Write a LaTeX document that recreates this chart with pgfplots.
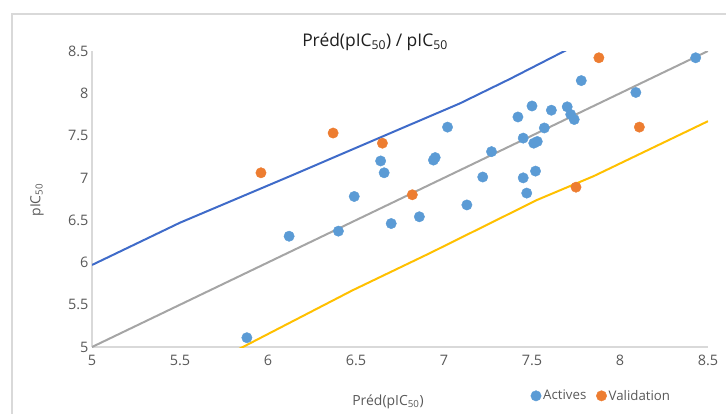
\documentclass[border=0pt]{standalone}
\usepackage{pgfplots}
\pgfplotsset{compat=1.18}
\usepackage{fontspec}
\setmainfont{Open Sans}
\definecolor{actblue}{HTML}{5B9BD5}
\definecolor{valorange}{HTML}{ED7D31}
\definecolor{upblue}{HTML}{3F6BC9}
\definecolor{idgray}{HTML}{A5A5A5}
\definecolor{lowyellow}{HTML}{FFC000}
\definecolor{axgray}{HTML}{D9D9D9}
\definecolor{txtgray}{HTML}{595959}
\definecolor{titlegray}{HTML}{1F1F1F}
\begin{document}
\begin{tikzpicture}
\useasboundingbox (0,0) rectangle (726bp,-414bp);
\draw[axgray, line width=1.5bp] (12bp,-414bp) -- (12bp,-14bp) -- (726bp,-14bp);
\begin{axis}[
  at={(92bp,-347bp)}, anchor=south west,
  scale only axis, width=616bp, height=296bp,
  xmin=5, xmax=8.5, ymin=5, ymax=8.5,
  axis x line=bottom, axis y line=left,
  axis line style={axgray, line width=1.2bp, -},
  xtick={5,5.5,6,6.5,7,7.5,8,8.5}, ytick={5,5.5,6,6.5,7,7.5,8,8.5},
  major tick length=0pt,
  ticklabel style={font=\fontsize{14.5}{17}\selectfont, text=txtgray},
  /pgf/number format/assume math mode=true,
  xticklabel style={yshift=-5bp},
  yticklabel style={xshift=0bp},
  legend style={at={(0.827,-0.165)}, anchor=center, draw=none, fill=none,
    legend columns=2, font=\fontsize{13.3}{15}\selectfont, text=txtgray,
    /tikz/every even column/.append style={column sep=8bp},
    inner sep=0pt},
  legend cell align=left,
]
\addplot[upblue, line width=2bp, forget plot] coordinates {
(5.00,5.97) (5.5,6.47) (6.125,7.02) (6.73,7.56) (7.09,7.88) (7.375,8.17) (7.76,8.58)};
\addplot[idgray, line width=2bp, forget plot] coordinates {(5,5) (8.5,8.5)};
\addplot[lowyellow, line width=2bp, forget plot] coordinates {
(5.82,4.96) (6.48,5.67) (6.92,6.11) (7.53,6.74) (7.85,7.02) (8.5,7.67)};
\addplot[only marks, mark=*, mark size=5.2bp, actblue, mark options={draw=none, fill=actblue}] coordinates {
(5.88,5.11) (6.12,6.31) (6.40,6.37) (6.49,6.78) (6.64,7.20) (6.66,7.06)
(6.70,6.46) (6.86,6.54) (6.94,7.21) (6.95,7.24) (7.02,7.60) (7.13,6.68)
(7.22,7.01) (7.27,7.31) (7.42,7.72) (7.45,7.00) (7.45,7.47) (7.47,6.82)
(7.50,7.85) (7.51,7.41) (7.53,7.43) (7.52,7.08) (7.57,7.59) (7.61,7.80)
(7.70,7.84) (7.72,7.75) (7.74,7.69) (7.78,8.15) (8.09,8.01) (8.43,8.42)};
\addlegendentry{Actives}
\addplot[only marks, mark=*, mark size=5.2bp, valorange, mark options={draw=none, fill=valorange}] coordinates {
(5.96,7.06) (6.37,7.53) (6.65,7.41) (6.82,6.80) (7.75,6.89) (7.88,8.42) (8.11,7.60)};
\addlegendentry{Validation}
\end{axis}
\node[text=titlegray, font=\fontsize{17.5}{21}\selectfont] at (375bp,-42bp) {Préd(pIC\textsubscript{50}) / pIC\textsubscript{50}};
\node[text=txtgray, font=\fontsize{14}{16}\selectfont] at (388bp,-402bp) {Préd(pIC\textsubscript{50})};
\node[text=txtgray, font=\fontsize{14}{16}\selectfont, rotate=90] at (37bp,-200bp) {pIC\textsubscript{50}};
\end{tikzpicture}
\end{document}
